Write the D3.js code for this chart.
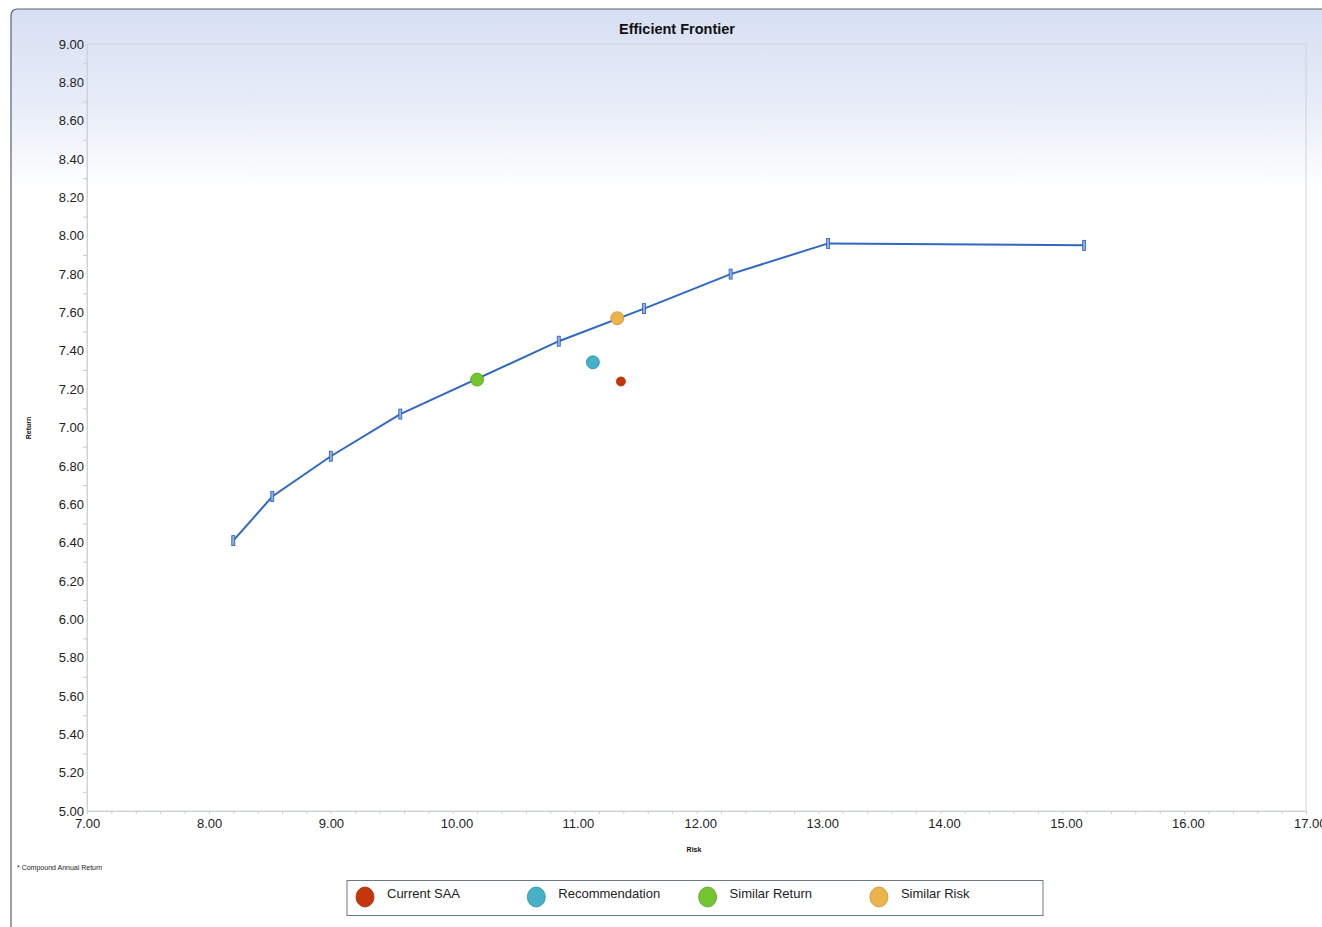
<!DOCTYPE html>
<html>
<head>
<meta charset="utf-8">
<script src="https://cdn.jsdelivr.net/npm/d3@7"></script>
<style>
  html, body { margin: 0; padding: 0; background: #fff; }
  svg { display: block; font-family: "Liberation Sans", Arial, sans-serif; }
</style>
</head>
<body>
<svg id="chart" width="1322" height="927"></svg>
<script>
// Efficient frontier: risk (x) vs return (y)
const frontierRisk   = [8.20, 8.52, 9.00, 9.57, 10.87, 11.57, 12.28, 13.08, 15.18];
const frontierReturn = [6.41, 6.64, 6.85, 7.07, 7.45, 7.62, 7.80, 7.96, 7.95];

// Portfolio points
const pointNames   = ["Current SAA", "Recommendation", "Similar Return", "Similar Risk"];
const pointRisk    = [11.38, 11.15, 10.20, 11.35];
const pointReturn  = [7.24, 7.34, 7.25, 7.57];
const pointColors  = ["#c5370b", "#45b1c5", "#74c52f", "#ecb44b"];
const pointStroke  = ["#a52d08", "#2f8ea2", "#58a020", "#c99030"];
const pointRadius  = [4.5, 6.5, 6.5, 6.5];

// Axis ticks
const xTicks = [7, 8, 9, 10, 11, 12, 13, 14, 15, 16, 17];
const yTicks = [5.0, 5.2, 5.4, 5.6, 5.8, 6.0, 6.2, 6.4, 6.6, 6.8, 7.0, 7.2, 7.4, 7.6, 7.8, 8.0, 8.2, 8.4, 8.6, 8.8, 9.0];

const svg = d3.select("#chart");
const plot = { left: 87, right: 1306, top: 44, bottom: 811 };

const x = d3.scaleLinear().domain([7, 17]).range([plot.left, plot.right]);
const y = d3.scaleLinear().domain([5, 9]).range([plot.bottom, plot.top]);

// Background gradient
const defs = svg.append("defs");
const grad = defs.append("linearGradient").attr("id", "bg")
  .attr("gradientUnits", "userSpaceOnUse").attr("x1", 0).attr("x2", 0).attr("y1", 9).attr("y2", 190);
grad.append("stop").attr("offset", "0%").attr("stop-color", "#d6dff2");
grad.append("stop").attr("offset", "55%").attr("stop-color", "#e8edf8");
grad.append("stop").attr("offset", "100%").attr("stop-color", "#ffffff");

svg.append("rect").attr("x", 11).attr("y", 9).attr("width", 1340).attr("height", 940)
  .attr("rx", 6).attr("fill", "url(#bg)").attr("stroke", "#5a6270").attr("stroke-width", 1.2);

// Plot area border
svg.append("rect").attr("x", plot.left).attr("y", plot.top)
  .attr("width", plot.right - plot.left).attr("height", plot.bottom - plot.top)
  .attr("fill", "none").attr("stroke", "#cfd3d8").attr("stroke-width", 1);

// Title
svg.append("text").attr("x", 677).attr("y", 34).attr("text-anchor", "middle")
  .attr("font-size", 14.5).attr("font-weight", "bold").attr("fill", "#111").text("Efficient Frontier");

// X axis (labels start just left of each tick)
const xAxis = svg.append("g").attr("transform", `translate(0,${plot.bottom})`)
  .call(d3.axisBottom(x).tickValues(xTicks).tickFormat(d3.format(".2f")).tickSize(0).tickPadding(8));
xAxis.select(".domain").attr("stroke", "#cfd3d8");
xAxis.selectAll("text").attr("font-size", 13).attr("fill", "#222")
  .attr("font-family", "Liberation Sans, Arial, sans-serif")
  .attr("text-anchor", "start").attr("x", -12.5);
const xMinor = svg.append("g").attr("transform", `translate(0,${plot.bottom})`)
  .call(d3.axisBottom(x).tickValues(d3.range(7, 17.001, 0.2)).tickFormat("").tickSize(3));
xMinor.select(".domain").remove();
xMinor.selectAll("line").attr("stroke", "#c8ccd2");

// Y axis
const yAxis = svg.append("g").attr("transform", `translate(${plot.left},0)`)
  .call(d3.axisLeft(y).tickValues(yTicks).tickFormat(d3.format(".2f")).tickSize(0).tickPadding(3));
yAxis.select(".domain").attr("stroke", "#cfd3d8");
yAxis.selectAll("text").attr("font-size", 13).attr("fill", "#222").attr("font-family", "Liberation Sans, Arial, sans-serif");
const yMinor = svg.append("g").attr("transform", `translate(${plot.left},0)`)
  .call(d3.axisLeft(y).tickValues(d3.range(5.1, 9, 0.2)).tickFormat("").tickSize(4));
yMinor.select(".domain").remove();
yMinor.selectAll("line").attr("stroke", "#c8ccd2");

// Axis titles
svg.append("text").attr("x", 694).attr("y", 852).attr("text-anchor", "middle")
  .attr("font-size", 7).attr("font-weight", "bold").attr("fill", "#111").text("Risk");
svg.append("text").attr("transform", "translate(31,428) rotate(-90)").attr("text-anchor", "middle")
  .attr("font-size", 7).attr("font-weight", "bold").attr("fill", "#111").text("Return");

// Footnote
svg.append("text").attr("x", 17).attr("y", 870).attr("font-size", 7).attr("fill", "#222")
  .text("* Compound Annual Return");

// Frontier line
const frontier = frontierRisk.map((r, i) => ({ r, v: frontierReturn[i] }));
svg.append("path").datum(frontier)
  .attr("d", d3.line().x(d => x(d.r)).y(d => y(d.v)))
  .attr("fill", "none").attr("stroke", "#2f68c4").attr("stroke-width", 2);

svg.append("g").selectAll("rect").data(frontier).join("rect")
  .attr("x", d => x(d.r) - 1.5).attr("y", d => y(d.v) - 5)
  .attr("width", 3).attr("height", 10)
  .attr("fill", "#8fb0e4").attr("stroke", "#2a5cb0").attr("stroke-width", 0.8);

// Portfolio points
svg.append("g").selectAll("circle").data(pointNames).join("circle")
  .attr("cx", (d, i) => x(pointRisk[i])).attr("cy", (d, i) => y(pointReturn[i]))
  .attr("r", (d, i) => pointRadius[i])
  .attr("fill", (d, i) => pointColors[i]).attr("stroke", (d, i) => pointStroke[i]).attr("stroke-width", 0.8);

// Legend
const legend = svg.append("g");
legend.append("rect").attr("x", 347).attr("y", 880.5).attr("width", 696).attr("height", 35)
  .attr("fill", "#fff").attr("stroke", "#6b7888").attr("stroke-width", 1);
const item = legend.selectAll("g").data(pointNames).join("g")
  .attr("transform", (d, i) => `translate(${365 + i * 171.3},897)`);
item.append("ellipse").attr("rx", 9).attr("ry", 10)
  .attr("fill", (d, i) => pointColors[i]).attr("stroke", (d, i) => pointStroke[i]).attr("stroke-width", 0.8);
item.append("text").attr("x", 22).attr("y", 1).attr("font-size", 13).attr("fill", "#222").text(d => d);
</script>
</body>
</html>
